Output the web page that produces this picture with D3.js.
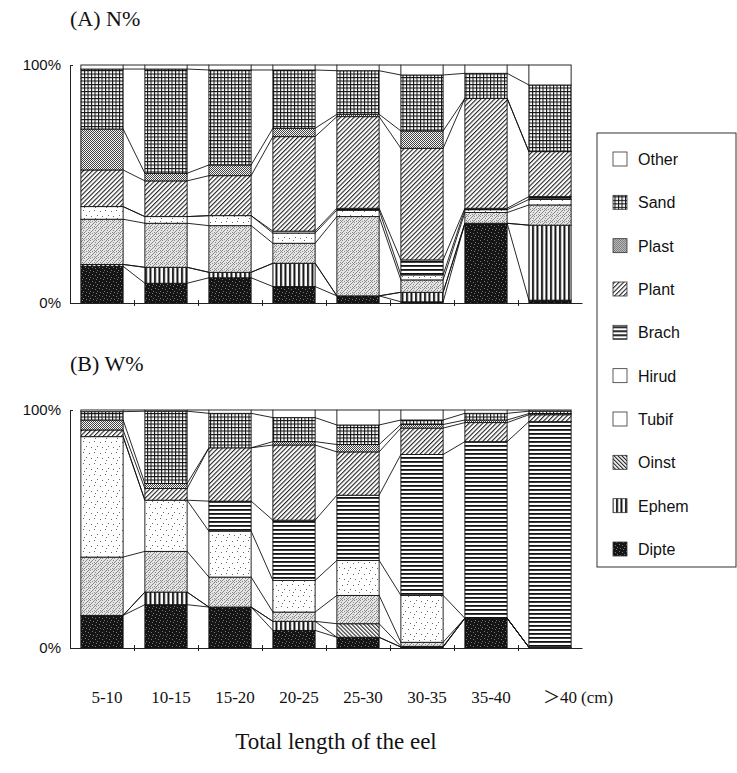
<!DOCTYPE html>
<html>
<head>
<meta charset="utf-8">
<script src="https://cdn.jsdelivr.net/npm/d3@7/dist/d3.min.js"></script>
<style>
  html, body { margin: 0; padding: 0; background: #fff; }
  svg { display: block; }
  .serif { font-family: "Liberation Serif", "Times New Roman", "Noto Sans CJK JP", serif; fill: #111; }
  .sans { font-family: "Liberation Sans", Arial, sans-serif; fill: #111; }
</style>
</head>
<body>
<svg id="chart" width="737" height="773"></svg>
<script>
// Eel length classes
const categories = ["5-10", "10-15", "15-20", "20-25", "25-30", "30-35", "35-40", "＞40"];

// Prey groups, stacked bottom -> top
const series = ["Dipte", "Ephem", "Oinst", "Tubif", "Hirud", "Brach", "Plant", "Plast", "Sand", "Other"];

// (A) N% — numerical percentage of each group per length class
const nDipte = [15.4, 8.3, 10.6, 6.9, 3.0, 0.5, 33.5, 1.2];
const nEphem = [0.8, 6.7, 2.3, 9.8, 0, 4.0, 0, 31.5];
const nOinst = [0, 0, 0, 0, 0, 0, 0, 0];
const nTubif = [19.0, 18.5, 19.6, 8.4, 33.3, 5.2, 4.5, 8.5];
const nHirud = [5.3, 2.8, 4.2, 4.3, 2.7, 2.1, 1.2, 2.3];
const nBrach = [0, 0, 0, 0.8, 0.8, 6.3, 0.6, 1.2];
const nPlant = [15.4, 15.0, 16.8, 39.7, 38.5, 46.9, 46.2, 18.9];
const nPlast = [17.2, 3.2, 4.5, 3.5, 1.0, 7.3, 0, 0];
const nSand  = [25.2, 43.8, 39.9, 24.5, 18.3, 23.5, 10.5, 28.0];
const nOther = [1.7, 1.7, 2.1, 2.1, 2.4, 4.2, 3.5, 8.4];

// (B) W% — percentage by weight
const wDipte = [13.7, 18.2, 17.2, 7.4, 4.5, 0.4, 12.5, 0.3];
const wEphem = [0, 5.3, 0, 3.8, 0, 0, 0, 0];
const wOinst = [0, 0, 0, 0, 5.7, 0.3, 0, 0];
const wTubif = [24.5, 17.1, 12.6, 3.9, 11.9, 1.7, 0, 0];
const wHirud = [50.6, 21.5, 19.3, 13.3, 14.7, 19.7, 0, 0];
const wBrach = [0, 0, 12.6, 25.3, 27.4, 59.2, 74.2, 94.8];
const wPlant = [2.8, 4.9, 22.4, 31.6, 18.2, 11.1, 8.0, 2.9];
const wPlast = [4.2, 2.1, 0, 1.4, 3.1, 1.5, 1.1, 0.5];
const wSand  = [3.5, 30.4, 14.5, 10.1, 8.2, 1.9, 2.8, 1.0];
const wOther = [0.7, 0.5, 1.4, 3.2, 6.3, 4.2, 1.4, 0.5];

const nSeries = [nDipte, nEphem, nOinst, nTubif, nHirud, nBrach, nPlant, nPlast, nSand, nOther];
const wSeries = [wDipte, wEphem, wOinst, wTubif, wHirud, wBrach, wPlant, wPlast, wSand, wOther];

const yTicks = [0, 100];

function toRows(arrs) {
  return categories.map((c, i) => {
    const row = { cat: c };
    series.forEach((s, k) => { row[s] = arrs[k][i]; });
    return row;
  });
}

const svg = d3.select("#chart");
const defs = svg.append("defs");

// ---- fill patterns ----
function pat(id, w, h, transform) {
  const p = defs.append("pattern").attr("id", id)
    .attr("patternUnits", "userSpaceOnUse").attr("width", w).attr("height", h);
  if (transform) p.attr("patternTransform", transform);
  return p;
}
function dots(p, pts, color) {
  pts.forEach(([x, y]) =>
    p.append("rect").attr("x", x).attr("y", y).attr("width", 1).attr("height", 1).attr("fill", color));
}
// Sand: square grid
{
  const p = pat("p-sand", 3.5, 3.5);
  p.append("rect").attr("width", 3.5).attr("height", 3.5).attr("fill", "#fff");
  p.append("path").attr("d", "M0,0.5H3.5M0.5,0V3.5").attr("stroke", "#111").attr("stroke-width", 1.1);
}
// Plast: fine dense stipple
{
  const p = pat("p-plast", 4, 4);
  p.append("rect").attr("width", 4).attr("height", 4).attr("fill", "#f4f4f4");
  dots(p, [[0,0],[2,0],[1,1],[3,1],[0,2],[2,2],[3,3],[1,3]], "#444");
}
// Plant: "/" diagonal lines
{
  const p = pat("p-plant", 3.2, 10, "rotate(45)");
  p.append("rect").attr("width", 3.2).attr("height", 10).attr("fill", "#fff");
  p.append("rect").attr("width", 1.1).attr("height", 10).attr("fill", "#222");
}
// Brach: horizontal lines
{
  const p = pat("p-brach", 6, 4);
  p.append("rect").attr("width", 6).attr("height", 4).attr("fill", "#fff");
  p.append("rect").attr("y", 1).attr("width", 6).attr("height", 1.8).attr("fill", "#111");
}
// Hirud: sparse dots
{
  const p = pat("p-hirud", 11, 11);
  p.append("rect").attr("width", 11).attr("height", 11).attr("fill", "#fff");
  dots(p, [[1,2],[6,1],[9,6],[3,7],[7,9]], "#666");
}
// Tubif: light dense stipple
{
  const p = pat("p-tubif", 6, 6);
  p.append("rect").attr("width", 6).attr("height", 6).attr("fill", "#e4e4e4");
  dots(p, [[0,0],[3,1],[1,3],[4,4],[2,5],[5,2],[0,4],[4,0],[2,2],[5,5]], "#8a8a8a");
}
// Oinst: "\" diagonal lines
{
  const p = pat("p-oinst", 2.8, 10, "rotate(-45)");
  p.append("rect").attr("width", 2.8).attr("height", 10).attr("fill", "#fff");
  p.append("rect").attr("width", 1.1).attr("height", 10).attr("fill", "#222");
}
// Ephem: vertical lines
{
  const p = pat("p-ephem", 4.5, 6);
  p.append("rect").attr("width", 4.5).attr("height", 6).attr("fill", "#fff");
  p.append("rect").attr("x", 1).attr("width", 2).attr("height", 6).attr("fill", "#111");
}
// Dipte: dark speckle
{
  const p = pat("p-dipte", 7, 7);
  p.append("rect").attr("width", 7).attr("height", 7).attr("fill", "#151515");
  dots(p, [[1,1],[4,2],[2,5],[6,4],[5,6]], "#777");
}

const fillOf = {
  Dipte: "url(#p-dipte)", Ephem: "url(#p-ephem)", Oinst: "url(#p-oinst)",
  Tubif: "url(#p-tubif)", Hirud: "url(#p-hirud)", Brach: "url(#p-brach)",
  Plant: "url(#p-plant)", Plast: "url(#p-plast)", Sand: "url(#p-sand)", Other: "#fff"
};
const legendFill = Object.assign({}, fillOf, { Tubif: "#fff", Hirud: "#fff" });

// ---- shared horizontal scale ----
const x = d3.scaleBand().domain(categories).range([70, 582])
  .paddingInner(0.34).paddingOuter(0.17);
const bw = x.bandwidth();
const stack = d3.stack().keys(series);

function panel(rows, y0, y1, title, titleY) {
  const y = d3.scaleLinear().domain([0, 100]).range([y1, y0]);
  const g = svg.append("g");
  const stacked = stack(rows);

  // series lines joining the layer boundaries of neighbouring bars
  const links = [];
  stacked.forEach(layer => {
    for (let i = 0; i < layer.length - 1; i++) {
      links.push({ a: layer[i], b: layer[i + 1] });
    }
  });
  g.append("g").selectAll("line").data(links).join("line")
    .attr("x1", d => x(d.a.data.cat) + bw)
    .attr("x2", d => x(d.b.data.cat))
    .attr("y1", d => y(d.a[1]))
    .attr("y2", d => y(d.b[1]))
    .attr("stroke", "#111").attr("stroke-width", 0.9);

  // stacked bars
  g.append("g").selectAll("g").data(stacked).join("g")
    .attr("fill", d => fillOf[d.key])
    .selectAll("rect").data(d => d.filter(v => v[1] - v[0] > 0)).join("rect")
    .attr("x", d => x(d.data.cat))
    .attr("width", bw)
    .attr("y", d => y(d[1]))
    .attr("height", d => y(d[0]) - y(d[1]))
    .attr("stroke", "#111").attr("stroke-width", 0.9);

  // value axis
  const ay = g.append("g").attr("transform", `translate(${x.range()[0]},0)`)
    .call(d3.axisLeft(y).tickValues(yTicks).tickFormat(d => d + "%").tickSizeInner(3).tickSizeOuter(0).tickPadding(6));
  ay.select(".domain").attr("stroke", "#222");
  ay.selectAll(".tick line").attr("x2", 3).attr("stroke", "#222");
  ay.selectAll(".tick text").attr("class", "sans").style("font-size", "15px")
    .style("font-family", '"Liberation Sans", Arial, sans-serif').attr("fill", "#111");

  // category axis: boundaries between length classes
  const xb = d3.scaleLinear().domain([0, categories.length]).range(x.range());
  const ax = g.append("g").attr("transform", `translate(0,${y(0)})`)
    .call(d3.axisBottom(xb).tickValues(d3.range(1, categories.length)).tickFormat("").tickSizeInner(3).tickSizeOuter(0));
  ax.select(".domain").attr("stroke", "#222");
  ax.selectAll(".tick line").attr("y1", -3).attr("stroke", "#222");

  svg.append("text").attr("class", "serif").attr("x", 70).attr("y", titleY)
    .style("font-size", "22px").text(title);
}

panel(toRows(nSeries), 65, 303, "(A) N%", 26);
panel(toRows(wSeries), 410, 648, "(B) W%", 371);

// category labels
const lab = svg.append("g").attr("class", "serif").style("font-size", "17px");
lab.selectAll("text").data(categories).join("text")
  .attr("x", (d, i) => x(d) + bw / 2 + (i === categories.length - 1 ? 10 : 5))
  .attr("y", 703)
  .attr("text-anchor", "middle")
  .text(d => d);
svg.append("text").attr("class", "serif").style("font-size", "17px")
  .attr("x", x(categories[categories.length - 1]) + bw / 2 + 31).attr("y", 703).text("(cm)");

svg.append("text").attr("class", "serif").style("font-size", "23px")
  .attr("x", 336).attr("y", 749).attr("text-anchor", "middle")
  .text("Total length of the eel");

// legend, top entry = top of the stack
const lg = svg.append("g").attr("transform", "translate(597,133)");
lg.append("rect").attr("width", 139).attr("height", 434).attr("fill", "none")
  .attr("stroke", "#333").attr("stroke-width", 1);
const items = series.slice().reverse();
const ly = d3.scalePoint().domain(items).range([27, 417]);
const li = lg.selectAll("g.item").data(items).join("g").attr("class", "item")
  .attr("transform", d => `translate(0,${ly(d)})`);
li.append("rect").attr("x", 16).attr("y", -8).attr("width", 14).attr("height", 14)
  .attr("fill", d => legendFill[d]).attr("stroke", "#333").attr("stroke-width", 0.8);
li.append("text").attr("class", "sans").attr("x", 41).attr("y", 5)
  .style("font-size", "16px").text(d => d);
</script>
</body>
</html>
